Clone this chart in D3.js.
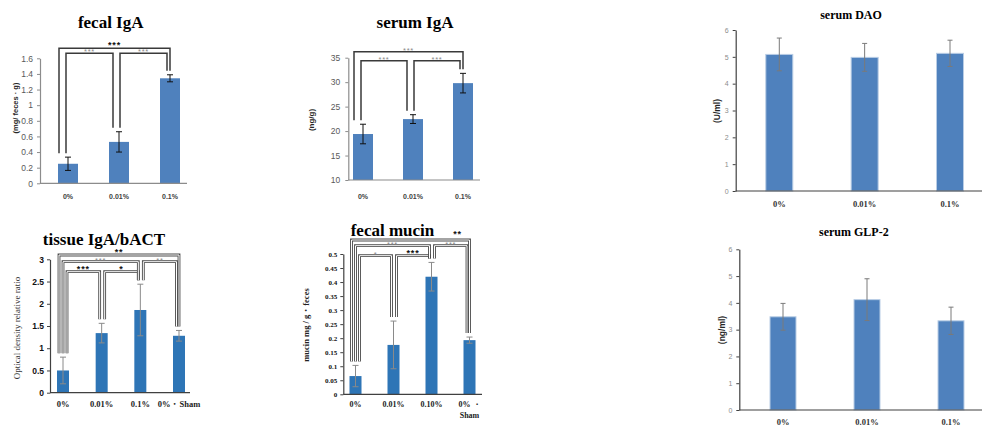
<!DOCTYPE html>
<html lang="en">
<head>
<meta charset="UTF-8">
<title>Gut markers</title>
<script src="https://d3js.org/d3.v7.min.js"></script>
<style>
  body { margin: 0; background: #fff; }
</style>
</head>
<body>
<div id="chart"></div>
<script>

// groups on the x axis
const groups3 = ["0%", "0.01%", "0.1%"];
const groupsTissue = ["0%", "0.01%", "0.1%", "0%・Sham"];
const groupsMucin = ["0%", "0.01%", "0.10%", "0% ・\nSham"];

// means and error bars
const fecalIgaMean = [0.25, 0.53, 1.344];
const fecalIgaErr = [0.085, 0.13, 0.045];
const serumIgaMean = [19.4, 22.45, 29.8];
const serumIgaErr = [2.0, 0.9, 2.0];
const daoMean = [5.09, 4.98, 5.13];
const daoErr = [0.61, 0.52, 0.49];
const glpMean = [3.48, 4.12, 3.33];
const glpErr = [0.5, 0.78, 0.51];
const tissueMean = [0.5, 1.34, 1.86, 1.28];
const tissueErr = [0.3, 0.22, 0.58, 0.12];
const mucinMean = [0.065, 0.176, 0.419, 0.193];
const mucinErr = [0.038, 0.085, 0.051, 0.011];

// tick values
const fecalIgaTicks = [0, 0.2, 0.4, 0.6, 0.8, 1, 1.2, 1.4, 1.6];
const serumIgaTicks = [10, 15, 20, 25, 30, 35];
const sixTicks = [0, 1, 2, 3, 4, 5, 6];
const tissueTicks = [0, 0.5, 1, 1.5, 2, 2.5, 3];
const mucinTicks = [0, 0.05, 0.1, 0.15, 0.2, 0.25, 0.3, 0.35, 0.4, 0.45, 0.5];

// significance brackets: bar a to bar b, nesting row, mark
const fecalIgaSig = [
    { a: 0, b: 1, row: 0, mark: "***", dark: false },
    { a: 1, b: 2, row: 0, mark: "***", dark: false },
    { a: 0, b: 2, row: 1, mark: "***", dark: true }
];
const serumIgaSig = [
    { a: 0, b: 1, row: 0, mark: "***", dark: false },
    { a: 1, b: 2, row: 0, mark: "***", dark: false },
    { a: 0, b: 2, row: 1, mark: "***", dark: false }
];
const tissueSig = [
    { a: 0, b: 1, row: 0, mark: "***", dark: true },
    { a: 1, b: 2, row: 0, mark: "*", dark: true },
    { a: 0, b: 2, row: 1, mark: "***", dark: false },
    { a: 2, b: 3, row: 1, mark: "**", dark: false },
    { a: 0, b: 3, row: 2, mark: "**", dark: true }
];
const mucinSig = [
    { a: 0, b: 1, row: 0, mark: "*", dark: false },
    { a: 1, b: 2, row: 0, mark: "***", dark: true },
    { a: 0, b: 2, row: 1, mark: "***", dark: false },
    { a: 2, b: 3, row: 1, mark: "***", dark: false },
    { a: 0, b: 3, row: 2, mark: "**", dark: true }
];

const svg = d3.select("#chart")
    .append("svg")
    .attr("width", 982)
    .attr("height", 426);

const serif = "'Liberation Serif', 'Times New Roman', serif";
const sans = "'Liberation Sans', Arial, sans-serif";

function drawPanel(cfg) {
    const g = svg.append("g");
    const x = d3.scalePoint().domain(cfg.groups).range(cfg.centers);
    const y = d3.scaleLinear().domain(cfg.domain).range(cfg.yRange);
    const base = y(cfg.domain[0]);

    // y axis
    const yAxis = g.append("g")
        .attr("transform", `translate(${cfg.axisX},0)`)
        .call(d3.axisLeft(y).tickValues(cfg.ticks).tickFormat(d => String(d))
            .tickSize(3).tickSizeOuter(0).tickPadding(cfg.tickPad));
    yAxis.select(".domain").attr("stroke", cfg.axisColor).attr("stroke-width", 1.2);
    yAxis.selectAll(".tick line").attr("stroke", cfg.axisColor);
    yAxis.selectAll(".tick text")
        .attr("fill", cfg.tickColor)
        .style("font-family", cfg.tickFont)
        .style("font-size", cfg.tickSize + "px")
        .style("font-weight", cfg.tickBold ? "bold" : "normal");

    // bars
    g.selectAll("rect.bar")
        .data(cfg.mean)
        .join("rect")
        .attr("class", "bar")
        .attr("x", (d, i) => x(cfg.groups[i]) - cfg.barW / 2)
        .attr("y", d => y(d))
        .attr("width", cfg.barW)
        .attr("height", d => base - y(d))
        .attr("fill", cfg.barColor)
        .attr("stroke", cfg.barStroke || "none")
        .attr("stroke-width", 1);

    // x axis line
    g.append("line")
        .attr("x1", cfg.axisX).attr("x2", cfg.xEnd)
        .attr("y1", base).attr("y2", base)
        .attr("stroke", cfg.axisColor)
        .attr("stroke-width", 1.2);

    // error bars
    const eb = g.selectAll("g.err")
        .data(cfg.mean)
        .join("g")
        .attr("class", "err")
        .attr("stroke", cfg.errColor)
        .attr("stroke-width", 1);
    eb.append("line")
        .attr("x1", (d, i) => x(cfg.groups[i])).attr("x2", (d, i) => x(cfg.groups[i]))
        .attr("y1", (d, i) => y(d + cfg.err[i])).attr("y2", (d, i) => y(d - cfg.err[i]));
    [1, -1].forEach(s => {
        eb.append("line")
            .attr("x1", (d, i) => x(cfg.groups[i]) - cfg.cap / 2)
            .attr("x2", (d, i) => x(cfg.groups[i]) + cfg.cap / 2)
            .attr("y1", (d, i) => y(d + s * cfg.err[i]))
            .attr("y2", (d, i) => y(d + s * cfg.err[i]));
    });

    // x labels
    g.selectAll("text.xl")
        .data(cfg.groups)
        .join("text")
        .attr("class", "xl")
        .attr("x", d => x(d))
        .attr("y", cfg.xLabelY)
        .attr("text-anchor", "middle")
        .attr("fill", cfg.xLabelColor)
        .style("font-family", cfg.xLabelFont)
        .style("font-size", cfg.xLabelSize + "px")
        .style("font-weight", "bold")
        .each(function (d) {
            const parts = d.split("\n");
            const t = d3.select(this);
            parts.forEach((p, k) => {
                t.append("tspan").attr("x", x(d)).attr("dy", k === 0 ? 0 : cfg.xLabelSize * 1.4).text(p);
            });
        });

    // significance brackets
    if (cfg.sig) {
        const n = cfg.groups.length;
        const top = y(cfg.domain[1]);
        cfg.sig.forEach(s => {
            const ca = x(cfg.groups[s.a]);
            const cb = x(cfg.groups[s.b]);
            const lx = cfg.legLeft(ca, s.a, s.row);
            const rx = cfg.legRight(cb, s.b, s.row, n);
            const ly = top + cfg.rowY[s.row];
            const bl = y(cfg.mean[s.a] + cfg.err[s.a]) - 4;
            const br = y(cfg.mean[s.b] + cfg.err[s.b]) - 4;
            const path = `M${lx},${bl}V${ly}H${rx}V${br}`;
            if (cfg.doubleLine) {
                g.append("path").attr("d", path).attr("fill", "none")
                    .attr("stroke", "#4a4a4a").attr("stroke-width", 2.8);
                g.append("path").attr("d", path).attr("fill", "none")
                    .attr("stroke", "#fff").attr("stroke-width", 1.0);
            } else {
                g.append("path").attr("d", path).attr("fill", "none")
                    .attr("stroke", "#3a3a3a").attr("stroke-width", 1.5);
            }
            const tx = (s.row === 2 && cfg.outerLabelRight) ? rx - 12 : (lx + rx) / 2;
            const ty = (s.row === 2 && cfg.outerLabelRight) ? ly - 3 : ly + (s.dark ? 0 : 1);
            g.append("text")
                .attr("x", tx)
                .attr("y", ty)
                .attr("text-anchor", "middle")
                .attr("fill", s.dark ? "#111" : "#8a8a8a")
                .style("font-family", sans)
                .style("font-size", s.dark ? "9px" : "7.5px")
                .style("font-weight", s.dark ? "bold" : "normal")
                .style("letter-spacing", "0.8px")
                .text(s.mark);
        });
    }

    // title
    g.append("text")
        .attr("x", cfg.titleX)
        .attr("y", cfg.titleY)
        .attr("text-anchor", cfg.titleAnchor || "middle")
        .attr("fill", "#000")
        .style("font-family", serif)
        .style("font-weight", "bold")
        .style("font-size", cfg.titleSize + "px")
        .text(cfg.title);

    // y label
    g.append("text")
        .attr("transform", `translate(${cfg.yLabelX},${cfg.yLabelY}) rotate(-90)`)
        .attr("text-anchor", "middle")
        .attr("dominant-baseline", "central")
        .attr("fill", cfg.yLabelColor)
        .style("font-family", cfg.yLabelFont)
        .style("font-weight", cfg.yLabelBold ? "bold" : "normal")
        .style("font-size", cfg.yLabelSize + "px")
        .text(cfg.yLabel);
}

// bracket leg offsets
const legLeft3 = (c, i, row) => i === 0 ? c - 2 - 7 * row : c + 1;
const legRight3 = (c, j, row, n) => j === n - 1 ? c - 3 + 3 * row : c - 6;
const legLeft4 = (c, i, row) => i === 0 ? c + 4 - 4 * row : c + 3;
const legRight4 = (c, j, row, n) => j === n - 1 ? c - 5 + 2.5 * row : c - 2;

// fecal IgA
drawPanel({
    groups: groups3, mean: fecalIgaMean, err: fecalIgaErr, ticks: fecalIgaTicks,
    domain: [0, 1.6], yRange: [183.3, 58.3], centers: [68, 170], barW: 20,
    axisX: 40, xEnd: 187, axisColor: "#8c8c8c", tickColor: "#595959", tickFont: sans,
    tickSize: 8.5, tickPad: 4, tickBold: false,
    barColor: "#4f81bd", errColor: "#111", cap: 6,
    xLabelY: 199, xLabelColor: "#404040", xLabelFont: sans, xLabelSize: 7,
    sig: fecalIgaSig, legLeft: legLeft3, legRight: legRight3, rowY: [-5, -10],
    title: "fecal IgA", titleX: 110.7, titleY: 27.5, titleSize: 17,
    yLabel: "(mg/ feces · g)", yLabelX: 15, yLabelY: 108, yLabelColor: "#262626",
    yLabelFont: sans, yLabelBold: true, yLabelSize: 7.5
});

// serum IgA
drawPanel({
    groups: groups3, mean: serumIgaMean, err: serumIgaErr, ticks: serumIgaTicks,
    domain: [10, 35], yRange: [180, 57.7], centers: [363, 463], barW: 20,
    axisX: 348.3, xEnd: 480, axisColor: "#8c8c8c", tickColor: "#595959", tickFont: sans,
    tickSize: 8.5, tickPad: 5, tickBold: false,
    barColor: "#4f81bd", errColor: "#111", cap: 6,
    xLabelY: 199, xLabelColor: "#404040", xLabelFont: sans, xLabelSize: 7,
    sig: serumIgaSig, legLeft: legLeft3, legRight: legRight3, rowY: [3, -6],
    title: "serum IgA", titleX: 415, titleY: 27.5, titleSize: 17,
    yLabel: "(ng/g)", yLabelX: 311.7, yLabelY: 120, yLabelColor: "#262626",
    yLabelFont: sans, yLabelBold: true, yLabelSize: 8
});

// serum DAO
drawPanel({
    groups: groups3, mean: daoMean, err: daoErr, ticks: sixTicks,
    domain: [0, 6], yRange: [191, 30], centers: [779.3, 950], barW: 27,
    axisX: 735.7, xEnd: 990, axisColor: "#404040", tickColor: "#8c8c8c", tickFont: sans,
    tickSize: 7, tickPad: 4, tickBold: false,
    barColor: "#4f81bd", barStroke: "#b9cde5", errColor: "#7a7a7a", cap: 5,
    xLabelY: 207, xLabelColor: "#333", xLabelFont: serif, xLabelSize: 8.5,
    title: "serum DAO", titleX: 851, titleY: 18.5, titleSize: 12,
    yLabel: "(U/ml)", yLabelX: 716.7, yLabelY: 111, yLabelColor: "#262626",
    yLabelFont: sans, yLabelBold: true, yLabelSize: 8.5
});

// serum GLP-2
drawPanel({
    groups: groups3, mean: glpMean, err: glpErr, ticks: sixTicks,
    domain: [0, 6], yRange: [410, 249.3], centers: [783, 951], barW: 26,
    axisX: 739.3, xEnd: 990, axisColor: "#404040", tickColor: "#8c8c8c", tickFont: sans,
    tickSize: 7, tickPad: 4, tickBold: false,
    barColor: "#4f81bd", barStroke: "#b9cde5", errColor: "#7a7a7a", cap: 5,
    xLabelY: 425, xLabelColor: "#333", xLabelFont: serif, xLabelSize: 8.5,
    title: "serum GLP-2", titleX: 853.8, titleY: 236, titleSize: 12,
    yLabel: "(ng/ml)", yLabelX: 721.7, yLabelY: 330, yLabelColor: "#262626",
    yLabelFont: sans, yLabelBold: true, yLabelSize: 8.5
});

// tissue IgA/bACT
drawPanel({
    groups: groupsTissue, mean: tissueMean, err: tissueErr, ticks: tissueTicks,
    domain: [0, 3], yRange: [392.7, 259.3], centers: [63, 179], barW: 12,
    axisX: 50, xEnd: 190, axisColor: "#404040", tickColor: "#111", tickFont: sans,
    tickSize: 8.5, tickPad: 3, tickBold: true,
    barColor: "#2e75b6", errColor: "#8a8a8a", cap: 6,
    xLabelY: 407, xLabelColor: "#222", xLabelFont: serif, xLabelSize: 8.5,
    sig: tissueSig, legLeft: legLeft4, legRight: legRight4, rowY: [12.4, 2.4, -4.3],
    doubleLine: true,
    title: "tissue IgA/bACT", titleX: 104, titleY: 244.5, titleSize: 17,
    yLabel: "Optical density relative ratio", yLabelX: 16.7, yLabelY: 328, yLabelColor: "#333",
    yLabelFont: serif, yLabelBold: false, yLabelSize: 9
});

// fecal mucin
drawPanel({
    groups: groupsMucin, mean: mucinMean, err: mucinErr, ticks: mucinTicks,
    domain: [0, 0.5], yRange: [394.3, 254], centers: [355.5, 469.5], barW: 12,
    axisX: 343.3, xEnd: 482, axisColor: "#404040", tickColor: "#111", tickFont: serif,
    tickSize: 7, tickPad: 3, tickBold: true,
    barColor: "#2e75b6", errColor: "#8a8a8a", cap: 6,
    xLabelY: 407, xLabelColor: "#222", xLabelFont: serif, xLabelSize: 8,
    sig: mucinSig, legLeft: legLeft4, legRight: legRight4, rowY: [1.7, -8.3, -14],
    doubleLine: true, outerLabelRight: true,
    title: "fecal mucin", titleX: 350.7, titleY: 235.5, titleSize: 17, titleAnchor: "start",
    yLabel: "mucin mg / g・feces", yLabelX: 306, yLabelY: 325, yLabelColor: "#222",
    yLabelFont: serif, yLabelBold: true, yLabelSize: 8.5
});

</script>
</body>
</html>
